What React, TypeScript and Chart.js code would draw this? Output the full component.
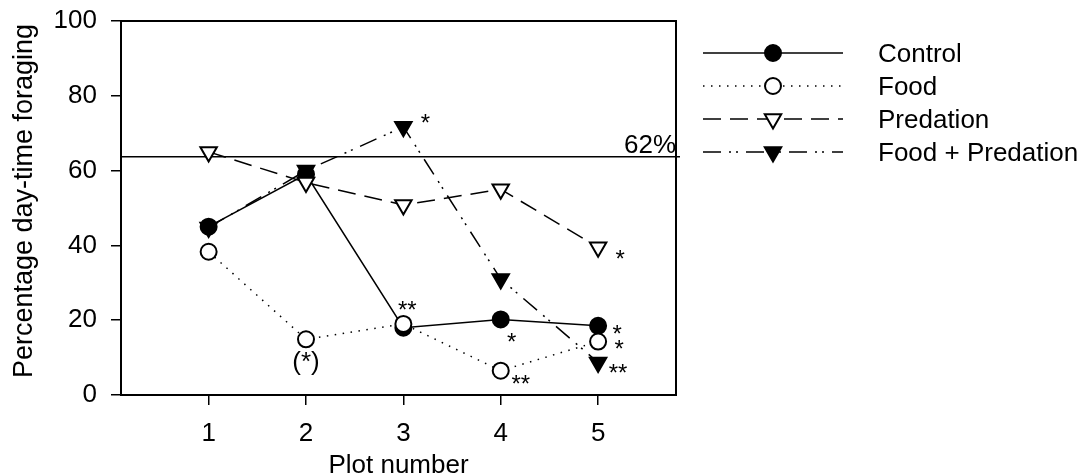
import React, { useEffect, useRef } from "react";
import { Chart, registerables } from "chart.js";

Chart.register(...registerables);

// ---- data ----
const PLOTS = [1, 2, 3, 4, 5];
const CONTROL = [45, 59, 18, 20.2, 18.5];
const FOOD = [38.3, 14.9, 19, 6.5, 14.3];
const PREDATION = [65, 56.8, 50.8, 55, 39.5];
const FOOD_PREDATION = [44.8, 60, 71.7, 31, 8.7];
const SERIES_NAMES = ["Control", "Food", "Predation", "Food + Predation"];
const Y_TICKS = [0, 20, 40, 60, 80, 100];
const REF_VALUE = 63.7;
const REF_LABEL = "62%";
const X_TITLE = "Plot number";
const Y_TITLE = "Percentage day-time foraging";

// significance marks: series index, point index, text, pixel offset (center x, baseline)
const MARKS = [
  { s: 3, i: 2, text: "*", dx: 22, dy: 4 },
  { s: 1, i: 1, text: "(*)", dx: 0, dy: 31 },
  { s: 1, i: 2, text: "**", dx: 4, dy: -6 },
  { s: 0, i: 3, text: "*", dx: 11, dy: 31 },
  { s: 1, i: 3, text: "**", dx: 20, dy: 21 },
  { s: 2, i: 4, text: "*", dx: 22, dy: 20 },
  { s: 0, i: 4, text: "*", dx: 19, dy: 16 },
  { s: 1, i: 4, text: "*", dx: 21, dy: 15 },
  { s: 3, i: 4, text: "**", dx: 20, dy: 19 },
];

const FONT = '"Liberation Sans", Arial, sans-serif';
const FS = 26;

const toPts = (arr: number[]) => arr.map((v, k) => ({ x: PLOTS[k], y: v }));

const STYLES = [
  { dash: [] as number[], style: "circle", rot: 0, fill: "#000", r: 8 },
  { dash: [1.5, 6.5], style: "circle", rot: 0, fill: "#fff", r: 8 },
  { dash: [18, 9], style: "triangle", rot: 180, fill: "#fff", r: 9.5 },
  { dash: [18, 8, 2, 5, 2, 8], style: "triangle", rot: 180, fill: "#000", r: 9.5 },
];
const DRAW_ORDER = [3, 1, 2, 4]; // higher drawn first

function drawMarker(ctx: CanvasRenderingContext2D, kind: string, x: number, y: number, r: number, fill: string) {
  ctx.save();
  ctx.setLineDash([]);
  ctx.lineWidth = 2;
  ctx.strokeStyle = "#000";
  ctx.fillStyle = fill;
  ctx.beginPath();
  if (kind === "circle") {
    ctx.arc(x, y, r, 0, Math.PI * 2);
  } else {
    const s = Math.sin(Math.PI / 3) * r;
    ctx.moveTo(x, y + r);
    ctx.lineTo(x - s, y - r / 2);
    ctx.lineTo(x + s, y - r / 2);
    ctx.closePath();
  }
  ctx.fill();
  ctx.stroke();
  ctx.restore();
}

const extrasPlugin = {
  id: "extras",
  beforeDatasetsDraw(chart: any) {
    const { ctx, chartArea } = chart;
    const y = chart.scales.y;
    const py = y.getPixelForValue(REF_VALUE);
    ctx.save();
    ctx.strokeStyle = "#000";
    ctx.lineWidth = 1.5;
    ctx.beginPath();
    ctx.moveTo(chartArea.left, py);
    ctx.lineTo(chartArea.right + 4, py);
    ctx.stroke();
    ctx.fillStyle = "#000";
    ctx.font = `${FS}px ${FONT}`;
    ctx.textAlign = "right";
    ctx.textBaseline = "alphabetic";
    ctx.fillText(REF_LABEL, chartArea.right, py - 4);
    ctx.restore();
  },
  afterDraw(chart: any) {
    const { ctx, chartArea } = chart;
    const xs = chart.scales.x;
    const ys = chart.scales.y;
    ctx.save();
    // frame
    ctx.strokeStyle = "#000";
    ctx.lineWidth = 2;
    ctx.strokeRect(chartArea.left, chartArea.top, chartArea.right - chartArea.left, chartArea.bottom - chartArea.top);
    // marks
    ctx.fillStyle = "#000";
    ctx.textAlign = "center";
    ctx.textBaseline = "alphabetic";
    const all = [CONTROL, FOOD, PREDATION, FOOD_PREDATION];
    MARKS.forEach((m) => {
      ctx.font = `${m.text === "(*)" ? FS : 24}px ${FONT}`;
      const px = xs.getPixelForValue(PLOTS[m.i]);
      const py = ys.getPixelForValue(all[m.s][m.i]);
      ctx.fillText(m.text, px + m.dx, py + m.dy);
    });
    // axis titles
    ctx.font = `${FS}px ${FONT}`;
    ctx.fillText(X_TITLE, (chartArea.left + chartArea.right) / 2, 473);
    ctx.save();
    ctx.translate(32, 201);
    ctx.rotate(-Math.PI / 2);
    ctx.font = `27px ${FONT}`;
    ctx.fillText(Y_TITLE, 0, 0);
    ctx.restore();
    // legend
    const lx0 = 703, lx1 = 843, lm = 773, tx = 878;
    ctx.textAlign = "left";
    SERIES_NAMES.forEach((name, k) => {
      const ry = 53 + k * 33;
      const st = STYLES[k];
      ctx.save();
      ctx.strokeStyle = "#000";
      ctx.lineWidth = 1.5;
      ctx.setLineDash(st.dash);
      ctx.beginPath();
      ctx.moveTo(lx0, ry);
      ctx.lineTo(lx1, ry);
      ctx.stroke();
      ctx.restore();
      drawMarker(ctx, st.style, lm, ry, st.r, st.fill);
      ctx.fillStyle = "#000";
      ctx.font = `${FS}px ${FONT}`;
      ctx.fillText(name, tx, ry + 9);
    });
    ctx.restore();
  },
};

export default function App() {
  const ref = useRef<HTMLCanvasElement | null>(null);
  useEffect(() => {
    document.body.style.margin = "0";
    if (!ref.current) return;
    const all = [CONTROL, FOOD, PREDATION, FOOD_PREDATION];
    const chart = new Chart(ref.current, {
      type: "line",
      data: {
        datasets: all.map((arr, k) => ({
          label: SERIES_NAMES[k],
          data: toPts(arr),
          borderColor: "#000",
          borderWidth: 1.5,
          borderDash: STYLES[k].dash,
          pointStyle: STYLES[k].style as any,
          pointRotation: STYLES[k].rot,
          pointRadius: STYLES[k].r,
          pointBackgroundColor: STYLES[k].fill,
          pointBorderColor: "#000",
          pointBorderWidth: 2,
          fill: false,
          tension: 0,
          order: DRAW_ORDER[k],
        })),
      },
      options: {
        animation: false,
        responsive: true,
        maintainAspectRatio: false,
        layout: { padding: { left: 0, top: 21, right: 407, bottom: 0 } },
        plugins: { legend: { display: false }, tooltip: { enabled: false } },
        scales: {
          x: {
            type: "linear",
            min: 0.1,
            max: 5.8,
            afterBuildTicks: (s: any) => {
              s.ticks = PLOTS.map((v) => ({ value: v }));
            },
            afterFit: (s: any) => {
              s.height = 80;
              s.paddingLeft = 0;
              s.paddingRight = 0;
            },
            border: { display: false },
            grid: { drawOnChartArea: false, drawTicks: true, tickLength: 10, color: "#000", lineWidth: 1.5 },
            ticks: { color: "#000", font: { family: FONT, size: FS }, padding: 13, maxRotation: 0 },
          },
          y: {
            min: 0,
            max: 100,
            afterBuildTicks: (s: any) => {
              s.ticks = Y_TICKS.map((v) => ({ value: v }));
            },
            afterFit: (s: any) => {
              s.width = 121;
              s.paddingTop = 0;
              s.paddingBottom = 0;
            },
            border: { display: false },
            grid: { drawOnChartArea: false, drawTicks: true, tickLength: 10, color: "#000", lineWidth: 1.5 },
            ticks: { color: "#000", font: { family: FONT, size: FS }, padding: 14 },
          },
        },
      },
      plugins: [extrasPlugin],
    });
    return () => chart.destroy();
  }, []);
  return (
    <div style={{ position: "fixed", left: 0, top: 0, width: 1083, height: 475, background: "#fff" }}>
      <canvas ref={ref} />
    </div>
  );
}
